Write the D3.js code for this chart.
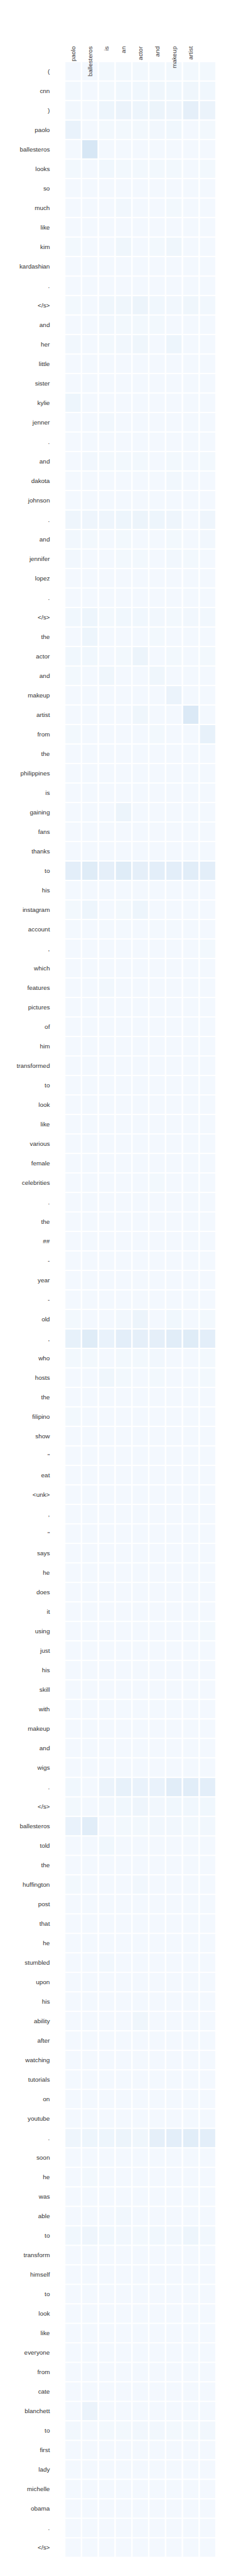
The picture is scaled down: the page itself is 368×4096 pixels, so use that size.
<!DOCTYPE html>
<html>
<head>
<meta charset="utf-8">
<script src="https://cdn.jsdelivr.net/npm/d3@7"></script>
<style>
  html, body { margin: 0; padding: 0; background: #fff; }
  text { font-family: "Liberation Sans", Arial, sans-serif; }
</style>
</head>
<body>
<script>
const colLabels = ["paolo", "ballesteros", "is", "an", "actor", "and", "makeup", "artist", ""];

const rowLabels = ["(", "cnn", ")", "paolo", "ballesteros", "looks", "so", "much", "like", "kim", "kardashian", ".", "</s>",
  "and", "her", "little", "sister", "kylie", "jenner", ".", "and", "dakota", "johnson", ".", "and", "jennifer", "lopez", ".", "</s>",
  "the", "actor", "and", "makeup", "artist", "from", "the", "philippines", "is", "gaining", "fans", "thanks", "to", "his",
  "instagram", "account", ",", "which", "features", "pictures", "of", "him", "transformed", "to", "look", "like", "various",
  "female", "celebrities", ".", "the", "##", "-", "year", "-", "old", ",", "who", "hosts", "the", "filipino", "show", "\"",
  "eat", "<unk>", ",", "\"", "says", "he", "does", "it", "using", "just", "his", "skill", "with", "makeup", "and", "wigs", ".",
  "</s>", "ballesteros", "told", "the", "huffington", "post", "that", "he", "stumbled", "upon", "his", "ability", "after",
  "watching", "tutorials", "on", "youtube", ".", "soon", "he", "was", "able", "to", "transform", "himself", "to", "look",
  "like", "everyone", "from", "cate", "blanchett", "to", "first", "lady", "michelle", "obama", ".", "</s>"];

const weights = [
  [0.020,0.022,0.025,0.025,0.025,0.025,0.025,0.025,0.025], // (
  [0.030,0.022,0.025,0.035,0.035,0.040,0.035,0.040,0.035], // cnn
  [0.030,0.020,0.050,0.060,0.050,0.055,0.045,0.090,0.060], // )
  [0.070,0.020,0.025,0.025,0.025,0.030,0.035,0.020,0.025], // paolo
  [0.020,0.160,0.020,0.020,0.020,0.020,0.020,0.020,0.020], // ballesteros
  [0.025,0.020,0.035,0.025,0.025,0.025,0.025,0.020,0.025], // looks
  [0.020,0.020,0.020,0.020,0.020,0.020,0.020,0.020,0.020], // so
  [0.020,0.020,0.020,0.030,0.020,0.020,0.025,0.020,0.020], // much
  [0.020,0.020,0.020,0.020,0.020,0.020,0.020,0.020,0.020], // like
  [0.025,0.020,0.020,0.040,0.020,0.025,0.040,0.020,0.020], // kim
  [0.020,0.020,0.020,0.020,0.020,0.020,0.020,0.020,0.020], // kardashian
  [0.022,0.020,0.022,0.022,0.022,0.022,0.022,0.022,0.022], // .
  [0.025,0.020,0.040,0.040,0.055,0.035,0.030,0.040,0.030], // </s>
  [0.020,0.020,0.030,0.025,0.025,0.025,0.020,0.020,0.020], // and
  [0.030,0.020,0.025,0.030,0.040,0.020,0.050,0.020,0.020], // her
  [0.020,0.020,0.020,0.020,0.020,0.020,0.020,0.020,0.020], // little
  [0.020,0.020,0.020,0.020,0.020,0.020,0.020,0.020,0.020], // sister
  [0.050,0.020,0.020,0.020,0.020,0.020,0.020,0.020,0.020], // kylie
  [0.020,0.020,0.030,0.020,0.020,0.020,0.020,0.020,0.020], // jenner
  [0.020,0.020,0.020,0.020,0.020,0.020,0.020,0.020,0.020], // .
  [0.020,0.030,0.025,0.025,0.025,0.020,0.025,0.020,0.025], // and
  [0.020,0.020,0.020,0.020,0.020,0.020,0.030,0.020,0.020], // dakota
  [0.020,0.020,0.020,0.020,0.020,0.020,0.020,0.020,0.020], // johnson
  [0.045,0.045,0.045,0.050,0.055,0.050,0.045,0.020,0.045], // .
  [0.030,0.025,0.020,0.025,0.020,0.020,0.025,0.020,0.030], // and
  [0.030,0.020,0.020,0.025,0.025,0.020,0.030,0.025,0.020], // jennifer
  [0.020,0.020,0.020,0.020,0.020,0.020,0.020,0.020,0.020], // lopez
  [0.020,0.020,0.020,0.020,0.020,0.020,0.020,0.020,0.020], // .
  [0.035,0.050,0.025,0.035,0.035,0.030,0.025,0.030,0.030], // </s>
  [0.020,0.050,0.020,0.020,0.020,0.025,0.020,0.020,0.020], // the
  [0.035,0.035,0.020,0.025,0.055,0.020,0.025,0.020,0.025], // actor
  [0.025,0.020,0.040,0.020,0.020,0.040,0.020,0.020,0.020], // and
  [0.020,0.020,0.020,0.020,0.020,0.020,0.060,0.020,0.020], // makeup
  [0.020,0.020,0.020,0.020,0.040,0.020,0.020,0.140,0.020], // artist
  [0.025,0.020,0.020,0.020,0.020,0.025,0.020,0.020,0.080], // from
  [0.020,0.020,0.020,0.020,0.020,0.020,0.020,0.020,0.020], // the
  [0.020,0.020,0.020,0.020,0.020,0.020,0.020,0.020,0.020], // philippines
  [0.020,0.020,0.020,0.020,0.020,0.020,0.020,0.020,0.020], // is
  [0.020,0.020,0.020,0.055,0.020,0.020,0.020,0.020,0.020], // gaining
  [0.020,0.020,0.020,0.020,0.020,0.020,0.020,0.020,0.020], // fans
  [0.020,0.020,0.020,0.020,0.020,0.020,0.020,0.020,0.020], // thanks
  [0.100,0.120,0.090,0.120,0.090,0.100,0.100,0.110,0.100], // to
  [0.020,0.020,0.020,0.020,0.020,0.020,0.020,0.020,0.020], // his
  [0.025,0.050,0.020,0.025,0.050,0.020,0.020,0.020,0.020], // instagram
  [0.020,0.020,0.020,0.020,0.020,0.020,0.020,0.020,0.020], // account
  [0.020,0.020,0.020,0.020,0.020,0.020,0.020,0.020,0.025], // ,
  [0.020,0.020,0.020,0.020,0.020,0.020,0.020,0.020,0.020], // which
  [0.020,0.020,0.030,0.020,0.020,0.020,0.020,0.020,0.020], // features
  [0.020,0.020,0.020,0.020,0.020,0.020,0.020,0.020,0.020], // pictures
  [0.020,0.020,0.020,0.020,0.020,0.020,0.020,0.020,0.020], // of
  [0.020,0.020,0.020,0.020,0.020,0.020,0.020,0.020,0.020], // him
  [0.020,0.020,0.020,0.020,0.020,0.020,0.020,0.020,0.020], // transformed
  [0.020,0.020,0.020,0.020,0.020,0.020,0.020,0.020,0.020], // to
  [0.020,0.020,0.020,0.020,0.020,0.020,0.020,0.020,0.020], // look
  [0.020,0.020,0.020,0.020,0.020,0.020,0.020,0.020,0.020], // like
  [0.020,0.020,0.020,0.020,0.020,0.020,0.020,0.020,0.020], // various
  [0.020,0.020,0.020,0.020,0.020,0.020,0.020,0.020,0.020], // female
  [0.020,0.020,0.020,0.020,0.020,0.025,0.020,0.020,0.020], // celebrities
  [0.020,0.020,0.020,0.020,0.020,0.020,0.020,0.020,0.022], // .
  [0.022,0.020,0.020,0.020,0.020,0.020,0.020,0.020,0.020], // the
  [0.022,0.020,0.020,0.020,0.020,0.020,0.020,0.020,0.020], // ##
  [0.020,0.020,0.020,0.020,0.020,0.020,0.020,0.020,0.020], // -
  [0.020,0.020,0.020,0.020,0.020,0.020,0.020,0.020,0.020], // year
  [0.020,0.020,0.020,0.020,0.020,0.020,0.020,0.020,0.020], // -
  [0.025,0.020,0.020,0.030,0.055,0.020,0.035,0.020,0.025], // old
  [0.080,0.120,0.070,0.100,0.090,0.090,0.110,0.120,0.100], // ,
  [0.025,0.025,0.020,0.025,0.025,0.030,0.020,0.020,0.025], // who
  [0.020,0.020,0.040,0.025,0.020,0.025,0.020,0.020,0.025], // hosts
  [0.020,0.020,0.020,0.020,0.020,0.020,0.020,0.020,0.020], // the
  [0.025,0.020,0.020,0.020,0.020,0.020,0.020,0.020,0.020], // filipino
  [0.020,0.020,0.020,0.020,0.020,0.020,0.020,0.020,0.020], // show
  [0.020,0.020,0.020,0.020,0.020,0.020,0.020,0.020,0.020], // "
  [0.020,0.020,0.020,0.020,0.020,0.020,0.020,0.020,0.020], // eat
  [0.020,0.020,0.020,0.020,0.020,0.020,0.020,0.020,0.020], // <unk>
  [0.020,0.020,0.020,0.020,0.020,0.020,0.020,0.020,0.020], // ,
  [0.020,0.020,0.020,0.020,0.020,0.020,0.020,0.020,0.020], // "
  [0.022,0.020,0.020,0.022,0.020,0.020,0.020,0.020,0.020], // says
  [0.020,0.020,0.020,0.020,0.020,0.020,0.020,0.020,0.020], // he
  [0.020,0.020,0.020,0.020,0.020,0.020,0.020,0.020,0.020], // does
  [0.020,0.020,0.020,0.020,0.020,0.020,0.020,0.020,0.020], // it
  [0.020,0.020,0.020,0.020,0.020,0.020,0.020,0.020,0.025], // using
  [0.020,0.020,0.020,0.020,0.020,0.020,0.020,0.020,0.020], // just
  [0.020,0.020,0.020,0.020,0.020,0.020,0.020,0.020,0.020], // his
  [0.020,0.020,0.020,0.020,0.020,0.020,0.020,0.020,0.020], // skill
  [0.020,0.020,0.020,0.020,0.020,0.020,0.020,0.020,0.020], // with
  [0.020,0.020,0.020,0.020,0.020,0.020,0.020,0.020,0.020], // makeup
  [0.020,0.020,0.020,0.020,0.020,0.020,0.020,0.020,0.020], // and
  [0.020,0.020,0.020,0.020,0.020,0.020,0.020,0.020,0.020], // wigs
  [0.035,0.020,0.060,0.080,0.070,0.070,0.110,0.110,0.100], // .
  [0.025,0.020,0.030,0.035,0.045,0.030,0.035,0.035,0.035], // </s>
  [0.070,0.110,0.020,0.025,0.025,0.030,0.030,0.025,0.030], // ballesteros
  [0.020,0.020,0.035,0.020,0.020,0.020,0.020,0.020,0.020], // told
  [0.020,0.020,0.020,0.020,0.020,0.020,0.020,0.020,0.020], // the
  [0.025,0.020,0.020,0.020,0.030,0.020,0.020,0.020,0.020], // huffington
  [0.020,0.020,0.020,0.020,0.020,0.020,0.020,0.020,0.020], // post
  [0.020,0.020,0.020,0.020,0.020,0.020,0.020,0.020,0.020], // that
  [0.020,0.020,0.020,0.020,0.020,0.020,0.020,0.020,0.020], // he
  [0.020,0.020,0.030,0.020,0.020,0.022,0.020,0.020,0.020], // stumbled
  [0.022,0.020,0.022,0.020,0.020,0.020,0.020,0.020,0.020], // upon
  [0.020,0.020,0.020,0.020,0.020,0.020,0.020,0.020,0.020], // his
  [0.020,0.020,0.020,0.020,0.040,0.020,0.020,0.020,0.020], // ability
  [0.020,0.020,0.020,0.020,0.020,0.020,0.020,0.020,0.020], // after
  [0.020,0.020,0.020,0.020,0.020,0.020,0.020,0.020,0.020], // watching
  [0.020,0.020,0.020,0.020,0.020,0.020,0.020,0.020,0.020], // tutorials
  [0.020,0.020,0.020,0.020,0.020,0.020,0.020,0.020,0.020], // on
  [0.020,0.020,0.020,0.020,0.020,0.020,0.020,0.020,0.020], // youtube
  [0.045,0.050,0.050,0.055,0.040,0.090,0.100,0.110,0.100], // .
  [0.020,0.020,0.020,0.020,0.020,0.020,0.020,0.020,0.020], // soon
  [0.020,0.025,0.020,0.020,0.020,0.020,0.020,0.020,0.020], // he
  [0.020,0.020,0.022,0.020,0.020,0.020,0.020,0.020,0.020], // was
  [0.020,0.020,0.020,0.030,0.020,0.020,0.020,0.020,0.020], // able
  [0.035,0.045,0.035,0.030,0.025,0.035,0.030,0.050,0.030], // to
  [0.020,0.020,0.020,0.020,0.020,0.020,0.020,0.020,0.020], // transform
  [0.020,0.020,0.020,0.020,0.020,0.020,0.020,0.020,0.020], // himself
  [0.020,0.020,0.020,0.020,0.020,0.020,0.020,0.020,0.020], // to
  [0.020,0.020,0.020,0.020,0.020,0.020,0.020,0.020,0.020], // look
  [0.020,0.020,0.020,0.020,0.020,0.020,0.020,0.020,0.020], // like
  [0.020,0.020,0.020,0.020,0.020,0.020,0.020,0.020,0.020], // everyone
  [0.020,0.020,0.020,0.020,0.020,0.020,0.020,0.020,0.020], // from
  [0.020,0.020,0.020,0.020,0.020,0.020,0.020,0.020,0.020], // cate
  [0.020,0.060,0.020,0.020,0.020,0.020,0.020,0.020,0.020], // blanchett
  [0.030,0.020,0.025,0.025,0.030,0.030,0.025,0.025,0.030], // to
  [0.020,0.020,0.020,0.020,0.020,0.020,0.020,0.020,0.020], // first
  [0.020,0.020,0.020,0.020,0.020,0.020,0.020,0.020,0.020], // lady
  [0.020,0.020,0.020,0.020,0.020,0.020,0.020,0.020,0.020], // michelle
  [0.020,0.020,0.020,0.020,0.020,0.020,0.020,0.020,0.020], // obama
  [0.020,0.020,0.020,0.020,0.020,0.020,0.020,0.020,0.020], // .
  [0.022,0.020,0.020,0.020,0.020,0.020,0.020,0.020,0.020]  // </s>
];

const S = 0.827;
const W = 445, H = 4948;

const svg = d3.select("body").append("svg")
  .attr("width", Math.round(W * S))
  .attr("height", Math.round(H * S));

const g = svg.append("g").attr("transform", `scale(${S})`);

const cols = d3.range(colLabels.length);
const rows = d3.range(rowLabels.length);

const x = d3.scaleBand().domain(cols).range([126, 414.6]).paddingInner(0.093).paddingOuter(0);
const y = d3.scaleBand().domain(rows).range([119.5, 4915.7]).paddingInner(0.066).paddingOuter(0);

const color = d3.scaleSequential(d3.interpolateBlues).domain([0, 1]);

const cells = [];
rows.forEach(r => cols.forEach(c => cells.push({ r, c, v: weights[r][c] })));

g.append("g").selectAll("rect").data(cells).join("rect")
  .attr("x", d => x(d.c))
  .attr("y", d => y(d.r))
  .attr("width", x.bandwidth())
  .attr("height", y.bandwidth())
  .attr("fill", d => color(d.v));

// column labels (rotated)
g.append("g").selectAll("text").data(cols).join("text")
  .attr("transform", c => `translate(${x(c) + x.bandwidth() / 2},89) rotate(-90)`)
  .attr("text-anchor", "end")
  .attr("dy", "0.35em")
  .attr("font-size", 12)
  .attr("fill", "#333")
  .text(c => colLabels[c]);

// row labels
g.append("g").selectAll("text").data(rows).join("text")
  .attr("x", 96)
  .attr("y", r => y(r) + y.bandwidth() / 2)
  .attr("text-anchor", "end")
  .attr("dy", "0.35em")
  .attr("font-size", 12)
  .attr("fill", "#333")
  .text(r => rowLabels[r]);
</script>
</body>
</html>
